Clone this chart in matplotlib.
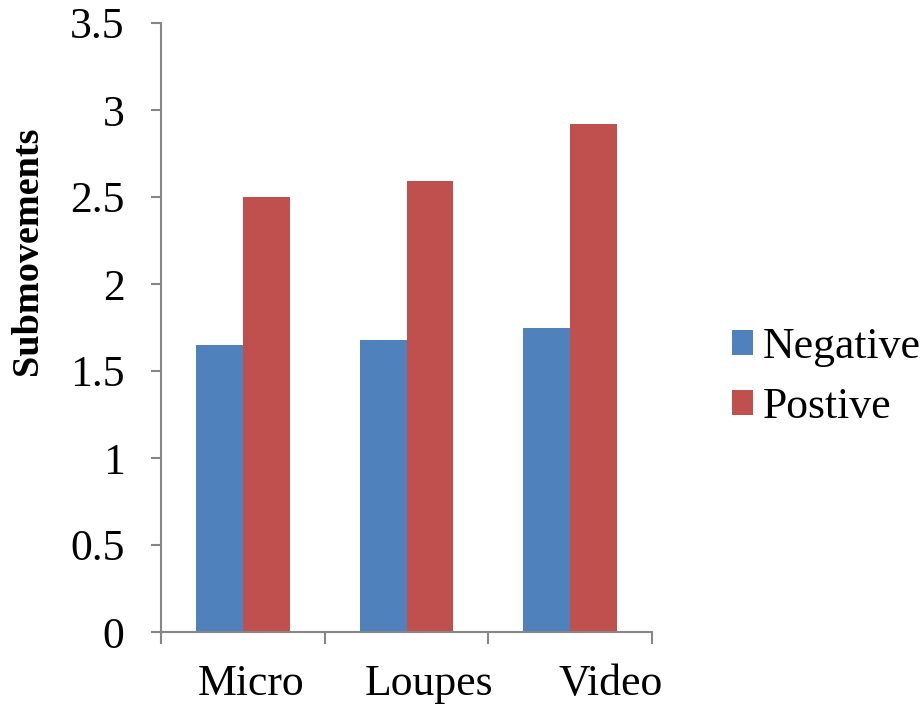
import matplotlib
matplotlib.use("Agg")
import matplotlib.pyplot as plt
from matplotlib.patches import Patch
import numpy as np

categories = ["Micro", "Loupes", "Video"]
negative = [1.65, 1.68, 1.75]
positive = [2.50, 2.59, 2.92]
series_names = ["Negative", "Postive"]
y_ticks = [0, 0.5, 1, 1.5, 2, 2.5, 3, 3.5]
y_tick_labels = ["0", "0.5", "1", "1.5", "2", "2.5", "3", "3.5"]

BLUE = "#4F81BD"
RED = "#C0504D"
AXIS_GRAY = "#868686"

plt.rcParams["font.family"] = ["Liberation Serif", "DejaVu Serif"]

fig = plt.figure(figsize=(9.24, 7.13), dpi=100)
ax = fig.add_axes([161 / 924, 81 / 713, 491 / 924, 609 / 713])

x = np.arange(len(categories))
w = 1 / 3.5
ax.bar(x - w / 2, negative, width=w, color=BLUE, edgecolor="none", label=series_names[0])
ax.bar(x + w / 2, positive, width=w, color=RED, edgecolor="none", label=series_names[1])

ax.set_xlim(-0.5, len(categories) - 0.5)
ax.set_ylim(0, 3.5)

ax.set_yticks(y_ticks)
ax.set_yticklabels(y_tick_labels, fontsize=31.5)
ax.tick_params(axis="y", direction="out", length=7.2, width=1.5, color=AXIS_GRAY, pad=19)

# category labels sit slightly right of the group centres, spreading outward
label_shift = np.array([0.05, 0.14, 0.25])
ax.set_xticks(x + label_shift)
ax.set_xticklabels(categories, fontsize=31.5)
ax.tick_params(axis="x", which="major", length=0, pad=23)
ax.set_xticks(np.arange(-0.5, len(categories)), minor=True)
ax.tick_params(axis="x", which="minor", direction="out", length=8.6, width=1.5, color=AXIS_GRAY)

for side in ("top", "right"):
    ax.spines[side].set_visible(False)
for side in ("left", "bottom"):
    ax.spines[side].set_color(AXIS_GRAY)
    ax.spines[side].set_linewidth(1.5)

ax.set_ylabel("Submovements", fontsize=27.5, fontweight="bold")
ax.yaxis.set_label_coords(-0.236, 0.6256)

handles = [Patch(facecolor=BLUE, edgecolor="none"), Patch(facecolor=RED, edgecolor="none")]
fig.legend(handles, series_names, loc="center left", bbox_to_anchor=(732 / 924, 1 - 377 / 713),
           frameon=False, fontsize=31.5, handlelength=0.48, handleheight=0.5,
           handletextpad=0.23, labelspacing=0.45, borderaxespad=0, borderpad=0)

fig.savefig("out.png", dpi=100)
